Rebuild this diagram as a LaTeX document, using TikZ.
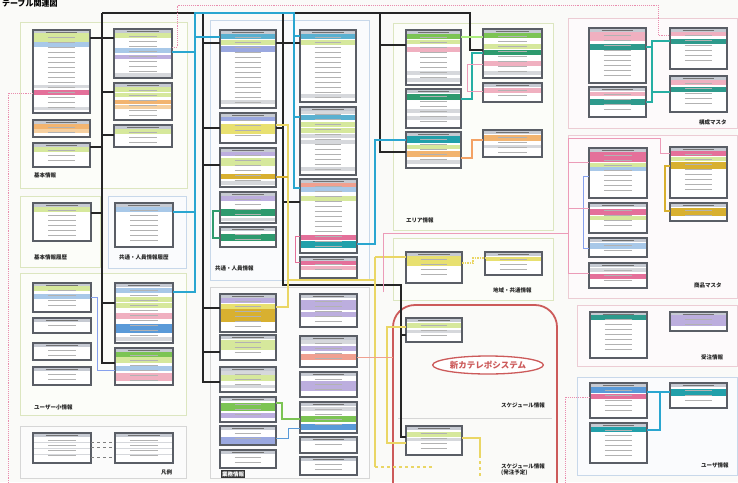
\documentclass[tikz,border=0pt]{standalone}
\usepackage{fontspec}
\newfontfamily\jp{Noto Sans CJK JP}
\usetikzlibrary{calc,shapes.geometric}
\definecolor{cBg}{HTML}{FAFAF8}
\definecolor{cHd}{HTML}{C6CAD2}
\definecolor{cBd}{HTML}{5A5E66}
\definecolor{cGy}{HTML}{D6D8DC}
\definecolor{cLg}{HTML}{D6E89C}
\definecolor{cGr}{HTML}{7CC454}
\definecolor{cDg}{HTML}{2E9A6E}
\definecolor{cTl}{HTML}{22A0AA}
\definecolor{cTe}{HTML}{2E9A8C}
\definecolor{cTb}{HTML}{5AB0D0}
\definecolor{cBl}{HTML}{A8C8E8}
\definecolor{cBb}{HTML}{5A9AD8}
\definecolor{cBp}{HTML}{9AA8E0}
\definecolor{cPk}{HTML}{F0B0C0}
\definecolor{cHp}{HTML}{E4709A}
\definecolor{cOr}{HTML}{F2B470}
\definecolor{cOl}{HTML}{F6D0A0}
\definecolor{cGd}{HTML}{D8B030}
\definecolor{cYe}{HTML}{E8E070}
\definecolor{cPu}{HTML}{BCAEDE}
\definecolor{cSa}{HTML}{F0A090}
\definecolor{cCy}{HTML}{2AA6D0}
\definecolor{cRd}{HTML}{CC5A5A}
\definecolor{cFg}{HTML}{DCE6C0}
\definecolor{cFb}{HTML}{C8D8EA}
\definecolor{cFp}{HTML}{ECCCD4}
\definecolor{cFn}{HTML}{D6D6D6}
\tikzset{
  tbl/.style={anchor=north west, inner sep=0pt, outer sep=0pt, fill=white},
  tblb/.style={draw=cBd, line width=1.1pt},
  txtbar/.style={draw=black!30, line width=1pt},
  hdbar/.style={draw=black!55, line width=1.1pt},
  frm/.style={draw=#1, line width=0.7pt, fill=#1!9},
  blk/.style={draw=black!85, line width=1.1pt},
  blu/.style={draw=cCy, line width=2.2pt},
  lb2/.style={draw=cBl!80!blue, line width=0.9pt},
  bpu/.style={draw=cBb, line width=1pt},
  grn/.style={draw=cGr, line width=1.3pt},
  dgl/.style={draw=cDg, line width=1.4pt},
  yel/.style={draw=cYe!90!orange, line width=1.5pt},
  gld/.style={draw=cGd, line width=1.5pt},
  org/.style={draw=cOr!90!red, line width=1.4pt},
  tea/.style={draw=cTe!80!cyan, line width=1.3pt},
  lgl/.style={draw=cLg!80!green, line width=1.2pt},
  pnk/.style={draw=cHp!70!white, line width=1pt},
  hpk/.style={draw=cHp, line width=1pt},
  sal/.style={draw=cSa, line width=1pt},
  pdot/.style={draw=cHp!80!white, line width=0.9pt, densely dotted},
  lab/.style={font=\jp\bfseries\fontsize{5.5}{6}\selectfont, inner sep=1pt, anchor=west, text=black!85},
}
\newcommand\tb[6]{%
  \node[tbl, minimum width=#4pt, minimum height=#5pt] (#1) at (#2,#3) {};
  \foreach \cc/\ya/\yb in {#6} {
    \fill[\cc] ($(#1.north west)+(0.6,\ya)$) rectangle ($(#1.north east)+(-0.6,\yb)$);
  }
  \pgfmathtruncatemacro\nrows{(#5-7)/5}
  \pgfmathsetmacro\tw{#4*0.28}
  \draw[hdbar] ($(#1.north)+(-\tw,2.2)$) -- ++({2*\tw},0);
  \foreach \k in {1,...,\nrows} {
    \draw[txtbar] ($(#1.north)+({-\tw*0.85},{\k*5+2.5})$) -- ++({1.7*\tw},0);
  }
  \draw[tblb] (#1.north west) rectangle (#1.south east);
}
\begin{document}
\begin{tikzpicture}[x=1pt,y=-1pt]
\useasboundingbox (0,0) rectangle (738,482);
\clip (0,0) rectangle (738,482);
\fill[cBg] (0,0) rectangle (738,482);
% group frames
\draw[frm=cFg] (20,22) rectangle (187,188);
\draw[frm=cFg] (20,196) rectangle (100,267);
\draw[frm=cFb] (108,196) rectangle (186,268);
\draw[frm=cFg] (20,273) rectangle (186,415);
\draw[frm=cFn] (20,426) rectangle (186,478);
\draw[frm=cFb] (210,20) rectangle (369,280);
\draw[frm=cFn] (210,287) rectangle (369,478);
\draw[frm=cFg] (393,23) rectangle (553,230);
\draw[frm=cFg] (393,238) rectangle (553,300);
\draw[frm=cFp] (568,18) rectangle (737,128);
\draw[frm=cFp] (568,135) rectangle (737,298);
\draw[frm=cFp] (577,305) rectangle (737,366);
\draw[frm=cFb] (577,377) rectangle (737,475);
% title
\node[font=\jp\bfseries\fontsize{8}{9}\selectfont, anchor=west, inner sep=0pt] (title) at (2,3) {テーブル関連図};
% tables column 1
\tb{t11}{33}{30}{57}{83}{cHd/0/3, cLg/3/8, cLg/8/12, cBl/12/17, cGy/55/58, cHp/60/65, cGy/77/80}
\tb{t12}{33}{120}{57}{17}{cHd/0/4, cOr/4/9, cOl/9/13}
\tb{t13}{33}{143}{57}{24}{cHd/0/4, cLg/4/9}
\tb{t14}{33}{203}{58}{38}{cHd/0/4, cLg/4/9}
\tb{t16}{33}{283}{58}{29}{cHd/0/3, cLg/3/8, cBl/11/16}
\tb{t17}{33}{318}{58}{15}{cHd/0/4}
\tb{t18}{33}{343}{58}{17}{cHd/0/4}
\tb{t19}{33}{367}{58}{18}{cHd/0/4}
\tb{lg1}{33}{433}{58}{30}{cHd/0/4, cGy/9/10, cGy/15/16, cGy/21/22}
\tb{lg2}{115}{433}{58}{30}{cHd/0/4, cGy/9/10, cGy/15/16, cGy/21/22}
% column 2
\tb{t21}{114}{29}{58}{49}{cHd/0/4, cLg/4/9, cBl/19/24, cPu/26/30, cGy/44/48}
\tb{t22}{114}{83}{58}{37}{cHd/0/4, cLg/4/9, cLg/10/14, cOr/17/21, cOl/22/26}
\tb{t23}{114}{125}{58}{22}{cHd/0/4, cLg/4/9}
\tb{t15}{115}{203}{58}{44}{cHd/0/4, cBl/4/9}
\tb{t24}{115}{283}{58}{60}{cHd/0/4, cBl/5/10, cLg/14/19, cLg/20/25, cPk/30/36, cBb/41/50, cGy/54/58}
\tb{t25}{115}{348}{58}{37}{cHd/0/4, cGr/4/9, cLg/9/15, cBl/18/23, cPk/25/33}
% column 3
\tb{t31}{220}{30}{56}{78}{cHd/0/4, cTb/4/9, cLg/10/15, cBp/16/22, cGy/70/74}
\tb{t32}{220}{113}{56}{30}{cHd/0/4, cBp/4/8, cYe/11/16, cYe/16/21}
\tb{t33}{220}{148}{56}{39}{cHd/0/4, cPu/4/8, cLg/10/14, cLg/14/18, cGd/26/31, cGy/33/37}
\tb{t34}{220}{192}{56}{31}{cHd/0/4, cPu/4/9, cDg/17/24, cGy/26/29}
\tb{t35}{220}{227}{56}{20}{cHd/0/4, cDg/7/14}
\tb{t36}{220}{294}{56}{38}{cHd/0/4, cPu/4/9, cYe/10/15, cGd/15/22, cGd/22/28}
\tb{t37}{220}{335}{56}{25}{cHd/0/4, cLg/5/10, cLg/10/15}
\tb{t38}{220}{367}{56}{25}{cHd/0/4, cGy/4/8, cLg/8/14, cGy/18/21}
\tb{t39}{220}{397}{56}{25}{cHd/0/4, cGr/6/11, cGr/11/14, cPu/16/21}
\tb{t3a}{220}{426}{56}{19}{cHd/0/4, cBp/11/18}
\tb{t3b}{220}{450}{56}{18}{cHd/0/4}
% column 4
\tb{t41}{300}{30}{56}{72}{cHd/0/4, cTb/4/9, cLg/10/15, cGy/64/68}
\tb{t42}{300}{107}{56}{68}{cHd/0/4, cGy/4/7, cTb/8/13, cLg/15/20, cLg/21/26, cGy/27/31, cGy/33/37, cGy/60/64}
\tb{t43}{300}{179}{57}{74}{cHd/0/4, cSa/4/8, cBl/8/13, cLg/17/22, cHp/56/61, cTl/62/69}
\tb{t44}{300}{257}{57}{21}{cHd/0/4, cHp/4/8, cPk/9/13}
\tb{t45}{300}{294}{57}{33}{cHd/0/4, cPu/6/11, cPu/11/16, cPu/18/23}
\tb{t46}{300}{336}{57}{31}{cHd/0/4, cGy/4/8, cPu/10/15, cSa/18/24}
\tb{t47}{300}{372}{57}{25}{cHd/0/4, cPu/9/14, cPu/14/19}
\tb{t48}{300}{402}{57}{31}{cHd/0/4, cGy/5/9, cGr/14/20, cBb/22/28}
\tb{t49}{300}{437}{57}{16}{cHd/0/4}
\tb{t4a}{300}{457}{57}{18}{cHd/0/4}
% columns 5/6
\tb{t51}{406}{30}{55}{55}{cHd/0/4, cGr/4/9, cLg/10/14, cPk/17/22, cGy/41/45, cGy/48/52}
\tb{t52}{406}{89}{55}{39}{cHd/0/4, cDg/5/11, cGy/20/24, cGy/27/31}
\tb{t53}{406}{132}{55}{36}{cHd/0/4, cTl/4/11, cLg/13/17, cOr/19/25, cGy/28/32}
\tb{t61}{483}{29}{59}{49}{cHd/0/4, cGr/4/9, cLg/15/20, cDg/21/26, cPk/32/37, cGy/42/46}
\tb{t62}{483}{83}{59}{19}{cHd/0/4, cPk/5/10}
\tb{t63}{483}{130}{59}{27}{cHd/0/4, cOr/5/11, cGy/15/18}
\tb{t54}{406}{252}{56}{31}{cHd/0/4, cYe/4/9, cYe/9/14}
\tb{t64}{485}{252}{57}{23}{cHd/0/4, cYe/5/9}
\tb{t55}{406}{318}{56}{24}{cHd/0/4, cLg/5/10, cGy/12/15}
\tb{t56}{406}{426}{56}{29}{cHd/0/4, cLg/6/11, cGy/12/15}
% right column
\tb{r1}{589}{28}{57}{55}{cHd/0/4, cPk/4/9, cPk/9/13, cTe/16/22}
\tb{r2}{589}{87}{57}{30}{cHd/0/4, cPk/5/9, cTe/12/18}
\tb{r3}{670}{28}{57}{41}{cHd/0/4, cPk/4/8, cTe/11/16}
\tb{r4}{670}{76}{57}{36}{cHd/0/4, cPk/4/9, cTe/11/16}
\tb{r5}{589}{148}{58}{50}{cHd/0/4, cHp/4/9, cHp/9/14, cLg/15/19, cBl/19/23}
\tb{r6}{589}{203}{58}{30}{cHd/0/4, cHp/6/12, cLg/13/17}
\tb{r7}{589}{238}{58}{19}{cHd/0/4, cBl/5/11}
\tb{r8}{589}{263}{58}{25}{cHd/0/4, cGy/5/9, cHp/11/16}
\tb{r9}{670}{147}{57}{51}{cHd/0/4, cHp/4/9, cLg/10/14, cGd/15/22}
\tb{r10}{670}{203}{57}{18}{cHd/0/4, cGd/5/13}
\tb{r11}{590}{312}{57}{46}{cHd/0/3, cTe/3/8}
\tb{r12}{670}{312}{57}{19}{cHd/0/3, cPu/3/10, cPu/10/14}
\tb{r13}{590}{383}{57}{35}{cHd/0/4, cBb/4/10, cHp/11/16}
\tb{r14}{590}{423}{57}{40}{cHd/0/4, cTl/4/9}
\tb{r15}{670}{383}{57}{25}{cHd/0/4, cTl/6/13}
% system frame
\draw[cRd, line width=1.8pt, rounded corners=22pt] (393,305) rectangle (557,505);
\draw[cFn, line width=0.6pt] (398,418) -- (552,418);
\node[ellipse, draw=cRd, line width=1.3pt, fill=white, minimum width=108pt, minimum height=18pt, text=cRd, inner sep=1pt, font=\jp\bfseries\fontsize{8.5}{9}\selectfont] (sys) at (488,365) {新カテレポシステム};
% black connectors
\coordinate (bA) at (102,13);
\draw[blk] (bA) -- (470,13) -- (470,50) -- (t61.west |- 0,50);
\draw[blk] (bA) -- (102,363) -- (t25.west |- 0,363);
\draw[blk] (t11.east |- 0,38) -- (t21.west |- 0,38);
\draw[blk] (102,92) -- (t22.west |- 0,92);
\draw[blk] (102,135) -- (t23.west |- 0,135);
\draw[blk] (t13.east |- 0,147) -- (102,147);
\draw[blk] (t14.east |- 0,213) -- (102,213);
\draw[blk] (102,303) -- (t24.west |- 0,303);
\draw[blk] (203,13) -- (203,382) -- (t38.west |- 0,382);
\draw[blk] (203,43) -- (t31.west |- 0,43);
\draw[blk] (203,128) -- (t32.west |- 0,128);
\draw[blk] (203,165) -- (t33.west |- 0,165);
\draw[blk] (203,308) -- (t36.west |- 0,308);
\draw[blk] (203,352) -- (t37.west |- 0,352);
\draw[blk] (283,13) -- (283,285) -- (401,285) -- (401,437) -- (t56.west |- 0,437);
\draw[blk] (t31.east |- 0,43) -- (t41.west |- 0,43);
\draw[blk] (t32.east |- 0,128) -- (283,128);
\draw[blk] (283,202) -- (t43.west |- 0,202);
\draw[blk] (401,335) -- (t55.west |- 0,335);
\draw[blk] (380,13) -- (380,152) -- (t53.west |- 0,152);
\draw[blk] (380,45) -- (t51.west |- 0,45);
% blue connectors
\draw[blu] (t24.east |- 0,292) -- (195,292) -- (195,13) -- (294,13) -- (294,188) -- (t43.west |- 0,188);
\draw[blu] (t21.east |- 0,52) -- (195,52);
\draw[blu] (195,37) -- (t31.west |- 0,37);
\draw[blu] (t15.east |- 0,212) -- (195,212);
\draw[blu] (294,36) -- (t41.west |- 0,36);
\draw[blu] (294,117) -- (t42.west |- 0,117);
\draw[blu] (t43.east |- 0,244) -- (375,244) -- (375,140) -- (t53.west |- 0,140);
\draw[lb2] (t16.east |- 0,297) -- (97,297) -- (97,370) -- (t25.west |- 0,370);
\draw[lb2] (r5.west |- 0,176) -- (583,176) -- (583,248) -- (r7.west |- 0,248);
\draw[bpu] (t3a.east |- 0,438) -- (288,438) -- (288,428) -- (t48.west |- 0,428);
\draw[grn] (t39.east |- 0,403) -- (282,403) -- (282,419) -- (t48.west |- 0,419);
\draw[dgl] (t34.west |- 0,211) -- (213,211) -- (213,238) -- (t35.west |- 0,238);
% yellow / gold / orange
\draw[yel] (t32.east |- 0,125) -- (288,125) -- (288,307) -- (t36.east |- 0,307);
\draw[gld] (t33.east |- 0,177) -- (288,177);
\draw[yel] (288,280) -- (375,280);
\draw[yel] (375,257) -- (t54.west |- 0,257);
\draw[yel] (375,257) -- (375,467);
\draw[yel, dashed] (375,467) -- (432,467);
\draw[yel] (t55.west |- 0,327) -- (387,327) -- (387,443) -- (t56.west |- 0,443);
\draw[yel] (t56.east |- 0,438) -- (480,438) -- (480,455);
\draw[yel, dashed] (480,455) -- (480,476);
\draw[yel, densely dotted] (t54.east |- 0,263) -- (473,263) -- (473,258) -- (t64.west |- 0,258);
\draw[org] (t53.east |- 0,158) -- (472,158) -- (472,140) -- (t63.west |- 0,140);
\draw[lgl] (t51.east |- 0,37) -- (t61.west |- 0,37);
\draw[tea] (t52.east |- 0,99) -- (472,99) -- (472,53) -- (t61.west |- 0,53);
\draw[pnk] (t61.west |- 0,64) -- (467,64) -- (467,91) -- (t62.west |- 0,91);
\draw[gld] (r9.west |- 0,166) -- (665,166) -- (665,211) -- (r10.west |- 0,211);
\draw[tea] (r1.east |- 0,47) -- (652,47) -- (652,41) -- (r3.west |- 0,41);
\draw[tea] (652,47) -- (652,92) -- (r4.west |- 0,92);
\draw[tea] (r2.east |- 0,102) -- (652,102) -- (652,92);
\draw[bpu, draw=cCy, line width=1.4pt] (r13.east |- 0,392) -- (r15.west |- 0,392);
\draw[bpu, draw=cCy, line width=1.4pt] (r14.east |- 0,430) -- (660,430) -- (660,392);
% pink
\draw[pnk] (568,138) -- (660,138) -- (660,153) -- (r9.west |- 0,153);
\draw[pnk] (568,138) -- (568,273) -- (r8.west |- 0,273);
\draw[pnk] (568,162) -- (r5.west |- 0,162);
\draw[pnk] (568,208) -- (r6.west |- 0,208);
\draw[pnk] (383,292) -- (383,233) -- (568,233);
\draw[hpk] (t43.west |- 0,236) -- (295,236) -- (295,262) -- (t44.west |- 0,262);
\coordinate (sysL) at (393,357);
\draw[sal] (t46.east |- 0,357) -- (sysL);
\draw[pdot] (t11.west |- 0,93) -- (8,93) -- (8,490);
\draw[pdot] (r13.west |- 0,397) -- (565,397) -- (565,490);
\draw[pdot] (t21.east |- 0,47) -- (177,47) -- (177,5) -- (658,5) -- (658,35) -- (r3.west |- 0,35);
% legend lines
\draw[gray, dashed, line width=0.5pt] (lg1.east |- 0,442) -- (lg2.west |- 0,442);
\draw[gray, dashed, line width=0.5pt] (lg1.east |- 0,447) -- (lg2.west |- 0,447);
\draw[gray, dashed, line width=0.5pt] (lg1.east |- 0,457) -- (lg2.west |- 0,457);
% labels
\node[lab] (l1) at (33,175) {基本情報};
\node[lab] (l2) at (33,257) {基本情報履歴};
\node[lab] (l3) at (118,257) {共通・人員情報履歴};
\node[lab] (l4) at (214,268) {共通・人員情報};
\node[lab] (l5) at (33,407) {ユーザー小情報};
\node[lab] (l6) at (160,472) {凡例};
\node[lab, fill=black!80, text=white] (l7) at (221,474) {業務情報};
\node[lab] (l8) at (405,220) {エリア情報};
\node[lab] (l9) at (492,290) {地域・共通情報};
\node[lab] (l10) at (500,405) {スケジュール情報};
\node[lab, align=left] (l11) at (500,470) {スケジュール情報\\(発注予定)};
\node[lab] (l12) at (698,122) {構成マスタ};
\node[lab] (l13) at (693,285) {商品マスタ};
\node[lab] (l14) at (700,357) {受注情報};
\node[lab] (l15) at (700,465) {ユーザ情報};
\end{tikzpicture}
\end{document}
